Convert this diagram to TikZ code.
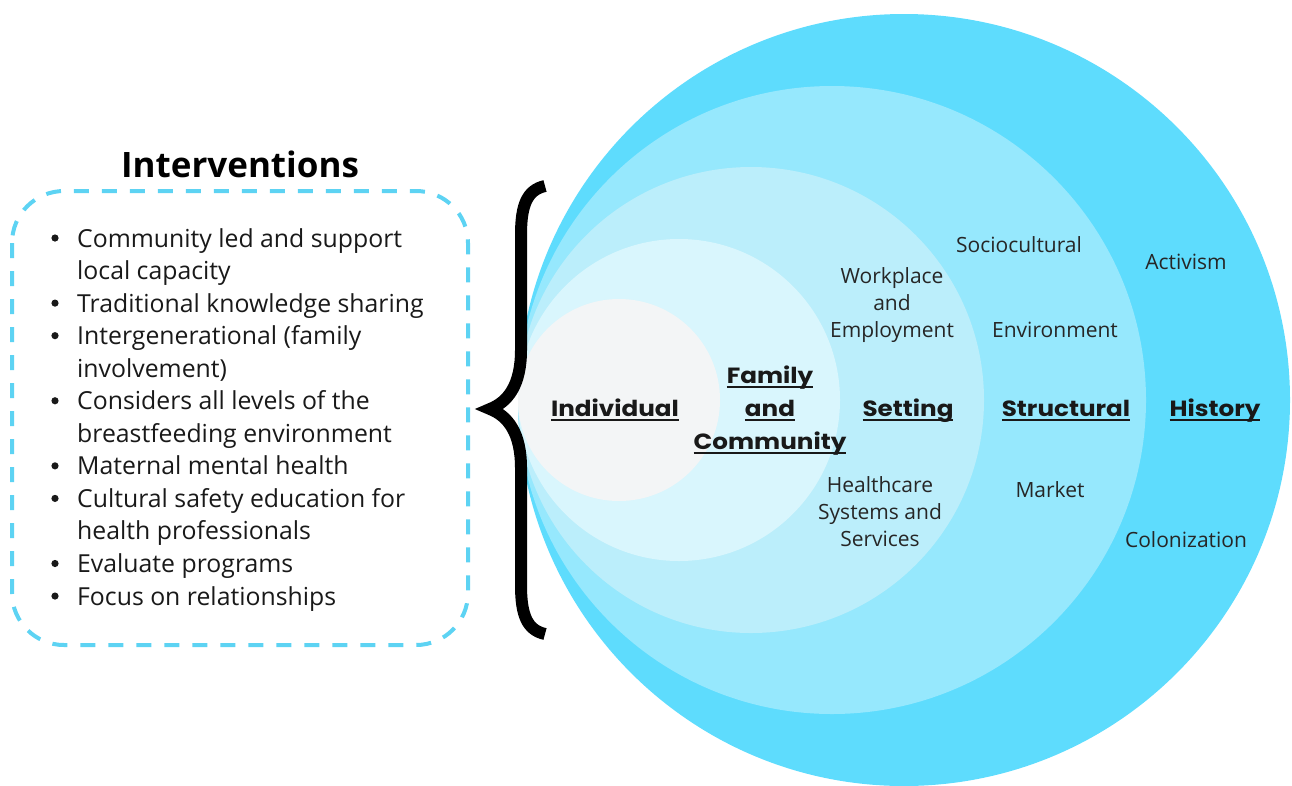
\documentclass[tikz,border=0pt]{standalone}
\usepackage{fontspec}
\setmainfont{Open Sans}
\newfontfamily\lblfont{Poppins}[FakeStretch=1.12]
\usepackage{xcolor}
\usepackage{tikz}
\definecolor{ringHistory}{HTML}{5EDCFD}
\definecolor{ringStruct}{HTML}{96E8FD}
\definecolor{ringSetting}{HTML}{BBEEFB}
\definecolor{ringFamily}{HTML}{D9F6FD}
\definecolor{ringIndiv}{HTML}{F3F5F6}
\definecolor{dashblue}{HTML}{5DD3F3}
\newcommand{\drawring}[3]{
	\fill[color=#3] (#1, 400) circle[radius=#2];
}
\newcommand{\ulabel}[1]{\setbox0=\hbox{#1}\rlap{\rule[-4.5pt]{\wd0}{2pt}}\box0}

\begin{document}
\begin{tikzpicture}[x=1pt, y=-1pt,
		ringlabel/.style={font=\lblfont\bfseries\fontsize{22}{33}\selectfont, text=black!90, align=center, anchor=base},
		smalllabel/.style={font=\fontsize{21}{26.7}\selectfont, text=black!85, align=center, anchor=base},
		itemtext/.style={font=\fontsize{24.8}{32}\selectfont, text=black!90, anchor=base west, inner sep=0pt}]
		\useasboundingbox (0,0) rectangle (1292,785);
		% nested rings, outermost first
		\drawring{904}{386}{ringHistory}
		\drawring{832}{314}{ringStruct}
		\drawring{751}{233}{ringSetting}
		\drawring{679}{161}{ringFamily}
		\drawring{619}{101}{ringIndiv}
		% curly brace
		\draw[line width=12pt, line join=miter] (545,186)
			.. controls (527,190) and (521,205) .. (521,235) -- (521,350)
			.. controls (521,385) and (508,402) .. (490,409)
			.. controls (508,416) and (521,433) .. (521,468) -- (521,585)
			.. controls (521,615) and (527,630) .. (545,634);
		% title and dashed frame
		\node[font=\bfseries\fontsize{35}{40}\selectfont, anchor=base] (title) at (240,177) {Interventions};
		\draw[dashblue, line width=4pt, dash pattern=on 15pt off 13pt, rounded corners=52pt] (12,191) rectangle (468,645);
		% list of interventions
		\foreach \t/\b [count=\k from 0] in {Community led and support/1, local capacity/0,
			Traditional knowledge sharing/1, Intergenerational (family/1, involvement)/0,
			Considers all levels of the/1, breastfeeding environment/0, Maternal mental health/1,
			Cultural safety education for/1, health professionals/0, Evaluate programs/1,
			Focus on relationships/1}{
			\pgfmathsetmacro{\yy}{247+32.55*\k}
			\node[itemtext] (item\k) at (77,\yy) {\t};
			\ifnum\b=1 \fill[black!90] (55,\yy-9) circle[radius=3.6]; \fi
		}
		% ring names (multi-line nodes sit on their last baseline)
		\node[ringlabel] (indiv) at (615,416.5) {\ulabel{Individual}};
		\node[ringlabel] (family) at (770,449.5) {\ulabel{Family}\\\ulabel{and}\\\ulabel{Community}};
		\node[ringlabel] (setting) at (908,416.5) {\ulabel{Setting}};
		\node[ringlabel] (struct) at (1066,416.5) {\ulabel{Structural}};
		\node[ringlabel] (history) at (1215,416.5) {\ulabel{History}};
		% factors in each ring
		\node[smalllabel] (workplace) at (892,337) {Workplace\\and\\Employment};
		\node[smalllabel] (health) at (880,546) {Healthcare\\Systems and\\Services};
		\node[smalllabel] (socio) at (1019,252) {Sociocultural};
		\node[smalllabel] (environ) at (1055,337) {Environment};
		\node[smalllabel] (market) at (1050,497) {Market};
		\node[smalllabel] (activism) at (1186,269) {Activism};
		\node[smalllabel] (colon) at (1186,547) {Colonization};
	\end{tikzpicture}
\end{document}
